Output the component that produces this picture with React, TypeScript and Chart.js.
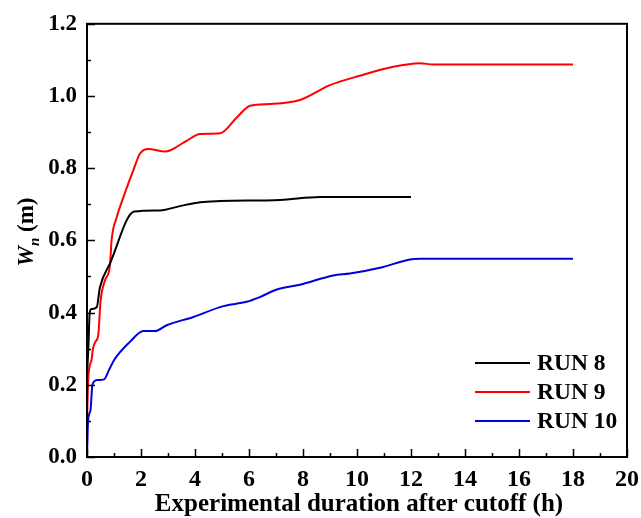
import React, { useEffect, useRef } from "react";
import { Chart, registerables } from "chart.js";

Chart.register(...registerables);

// Crest width W_n (m) against time after cutoff (h)
const run8Hours = [0, 0.05, 0.1, 0.17, 0.36, 0.48, 0.85, 1.75, 2.7, 3.44, 4.19, 4.93, 7.15, 8.63, 12.0];
const run8Width = [0.23, 0.3, 0.4, 0.41, 0.415, 0.47, 0.536, 0.68, 0.683, 0.695, 0.706, 0.709, 0.712, 0.72, 0.72];

const run9Hours = [0, 0.05, 0.17, 0.22, 0.32, 0.42, 0.5, 0.67, 0.85, 0.91, 1.1, 1.35, 1.71, 1.96, 2.27, 2.89, 3.07, 3.69, 4.19, 4.93, 5.54, 6.04, 6.78, 7.89, 9.0, 10.1, 11.34, 12.33, 12.83, 18.0];
const run9Width = [0.1, 0.22, 0.27, 0.3, 0.32, 0.34, 0.43, 0.49, 0.53, 0.6, 0.664, 0.72, 0.793, 0.84, 0.853, 0.846, 0.849, 0.876, 0.895, 0.897, 0.94, 0.973, 0.978, 0.989, 1.03, 1.056, 1.081, 1.091, 1.087, 1.087];

const run10Hours = [0, 0.04, 0.13, 0.2, 0.38, 0.63, 0.81, 1.0, 1.59, 2.09, 2.52, 2.95, 3.94, 5.05, 5.91, 6.4, 7.03, 7.89, 9.12, 9.74, 10.85, 11.96, 12.33, 18.0];
const run10Width = [0, 0.1, 0.13, 0.2, 0.213, 0.215, 0.24, 0.268, 0.319, 0.349, 0.349, 0.365, 0.388, 0.418, 0.43, 0.443, 0.464, 0.477, 0.503, 0.508, 0.524, 0.547, 0.549, 0.549];

const seriesLabels = ["RUN 8", "RUN 9", "RUN 10"];
const seriesColors = ["#000000", "#ff0000", "#0000dd"];

const xTitle = "Experimental duration after cutoff (h)";

const FONT = "'Liberation Serif', 'Times New Roman', serif";

const toPoints = (xs: number[], ys: number[]) => xs.map((x, i) => ({ x, y: ys[i] }));

// Frame, inward ticks, axis titles and legend
const decorations = {
  id: "decorations",
  afterDraw(chart: any) {
    const { ctx, chartArea } = chart;
    const { left, right, top, bottom } = chartArea;
    const xs = chart.scales.x;
    const ys = chart.scales.y;
    ctx.save();
    ctx.strokeStyle = "#000";
    ctx.lineWidth = 2;
    ctx.strokeRect(left, top, right - left, bottom - top);

    ctx.lineWidth = 1.5;
    ctx.beginPath();
    for (let v = 0; v <= 20; v += 1) {
      const px = Math.round(xs.getPixelForValue(v)) + 0.5;
      const len = v % 2 === 0 ? 8 : 4;
      ctx.moveTo(px, bottom);
      ctx.lineTo(px, bottom - len);
    }
    for (let k = 0; k <= 12; k++) {
      const py = Math.round(ys.getPixelForValue(k / 10)) + 0.5;
      const len = k % 2 === 0 ? 8 : 4;
      ctx.moveTo(left, py);
      ctx.lineTo(left + len, py);
    }
    ctx.stroke();

    // x axis title
    ctx.fillStyle = "#000";
    ctx.font = `bold 25px ${FONT}`;
    ctx.textAlign = "center";
    ctx.textBaseline = "middle";
    ctx.fillText(xTitle, (left + right) / 2 + 2, 505);

    // y axis title: W_n (m)
    ctx.save();
    ctx.translate(25, 232);
    ctx.rotate(-Math.PI / 2);
    ctx.textAlign = "left";
    ctx.textBaseline = "alphabetic";
    const bigBI = `italic bold 23px ${FONT}`;
    const sub = `italic bold 15px ${FONT}`;
    const big = `bold 23px ${FONT}`;
    ctx.font = bigBI;
    const wW = ctx.measureText("W").width;
    ctx.font = sub;
    const wN = ctx.measureText("n").width;
    ctx.font = big;
    const wM = ctx.measureText(" (m)").width;
    const total = wW + wN + wM;
    let cx = -total / 2;
    const base = 8;
    ctx.font = bigBI;
    ctx.fillText("W", cx, base);
    cx += wW;
    ctx.font = sub;
    ctx.fillText("n", cx, base + 6);
    cx += wN;
    ctx.font = big;
    ctx.fillText(" (m)", cx, base);
    ctx.restore();

    // legend
    ctx.font = `bold 23.5px ${FONT}`;
    ctx.textAlign = "left";
    ctx.textBaseline = "middle";
    chart.data.datasets.forEach((ds: any, i: number) => {
      const y = 363 + i * 29;
      ctx.strokeStyle = ds.borderColor;
      ctx.lineWidth = 2;
      ctx.beginPath();
      ctx.moveTo(right - 152, y);
      ctx.lineTo(right - 97, y);
      ctx.stroke();
      ctx.fillStyle = "#000";
      ctx.fillText(ds.label, right - 90, y + 1);
    });
    ctx.restore();
  },
};

export default function App() {
  const canvasRef = useRef<HTMLCanvasElement | null>(null);

  useEffect(() => {
    const canvas = canvasRef.current;
    if (!canvas) return;
    const datasets = [
      toPoints(run8Hours, run8Width),
      toPoints(run9Hours, run9Width),
      toPoints(run10Hours, run10Width),
    ].map((data, i) => ({
      label: seriesLabels[i],
      data,
      borderColor: seriesColors[i],
      backgroundColor: seriesColors[i],
      borderWidth: 2,
      pointRadius: 0,
      cubicInterpolationMode: "monotone" as const,
      fill: false,
    }));

    const chart = new Chart(canvas, {
      type: "line",
      data: { datasets },
      options: {
        animation: false,
        responsive: false,
        devicePixelRatio: 1,
        layout: { padding: { left: 0, right: 14, top: 23, bottom: 0 } },
        plugins: { legend: { display: false }, tooltip: { enabled: false } },
        scales: {
          x: {
            type: "linear",
            min: 0,
            max: 20,
            grid: { display: false, drawTicks: false },
            border: { display: false },
            ticks: {
              stepSize: 2,
              padding: 8,
              color: "#000",
              font: { family: FONT, size: 24, weight: "bold" },
              maxRotation: 0,
            },
            afterFit: (s: any) => {
              s.height = 61;
              s.paddingLeft = 0;
              s.paddingRight = 0;
            },
          },
          y: {
            type: "linear",
            min: 0,
            max: 1.2,
            grid: { display: false, drawTicks: false },
            border: { display: false },
            ticks: {
              stepSize: 0.2,
              padding: 10,
              color: "#000",
              font: { family: FONT, size: 23, weight: "bold" },
              callback: (v: any) => Number(v).toFixed(1),
            },
            afterFit: (s: any) => {
              s.width = 87;
            },
          },
        },
      },
      plugins: [decorations],
    });
    return () => chart.destroy();
  }, []);

  return (
    <div style={{ position: "absolute", left: 0, top: 0, width: 641, height: 518, background: "#fff" }}>
      <canvas ref={canvasRef} width={641} height={518} />
    </div>
  );
}
